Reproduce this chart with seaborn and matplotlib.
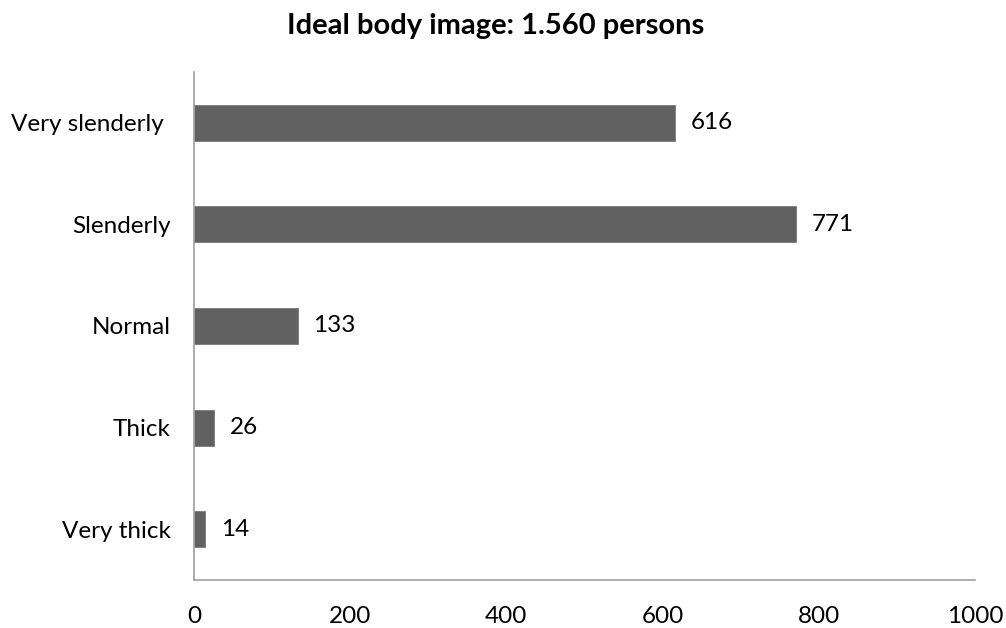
import matplotlib
matplotlib.use("Agg")
import matplotlib.pyplot as plt
import seaborn as sns
import pandas as pd

categories = ["Very slenderly ", "Slenderly", "Normal", "Thick", "Very thick"]
persons = [616, 771, 133, 26, 14]
x_ticks = [0, 200, 400, 600, 800, 1000]
title = "Ideal body image: 1.560 persons"

sns.set_theme(style="white")
plt.rcParams["font.family"] = ["Lato", "DejaVu Sans"]

df = pd.DataFrame({"category": categories, "persons": persons})

fig = plt.figure(figsize=(10.06, 6.28), dpi=100)
ax = fig.add_axes([194 / 1006, 1 - 580 / 628, (975 - 194) / 1006, (580 - 72) / 628])

sns.barplot(data=df, y="category", x="persons", orient="h", color="#616161",
            width=0.355, edgecolor="#7a7a7a", linewidth=0.6, saturation=1, ax=ax)

for i, v in enumerate(persons):
    ax.text(v + 20, i, f"{v}", va="center", ha="left", fontsize=17.5, color="#000000")

ax.set_xlim(0, 1000)
ax.set_ylim(4.5, -0.5)
ax.set_xticks(x_ticks)
ax.set_xticklabels([str(t) for t in x_ticks], fontsize=17.5, color="#000000")
ax.tick_params(axis="x", length=0, pad=19)
ax.tick_params(axis="y", length=0, pad=17, labelsize=17.5, labelcolor="#000000")
ax.set_xlabel("")
ax.set_ylabel("")

for side in ["top", "right"]:
    ax.spines[side].set_visible(False)
for side in ["left", "bottom"]:
    ax.spines[side].set_color("#a0a0a0")
    ax.spines[side].set_linewidth(1.2)

fig.text(496 / 1006, 1 - 26 / 628, title, ha="center", va="center",
         fontsize=21, fontweight="bold", color="#000000")

fig.savefig("out.png", dpi=100, facecolor="white")
